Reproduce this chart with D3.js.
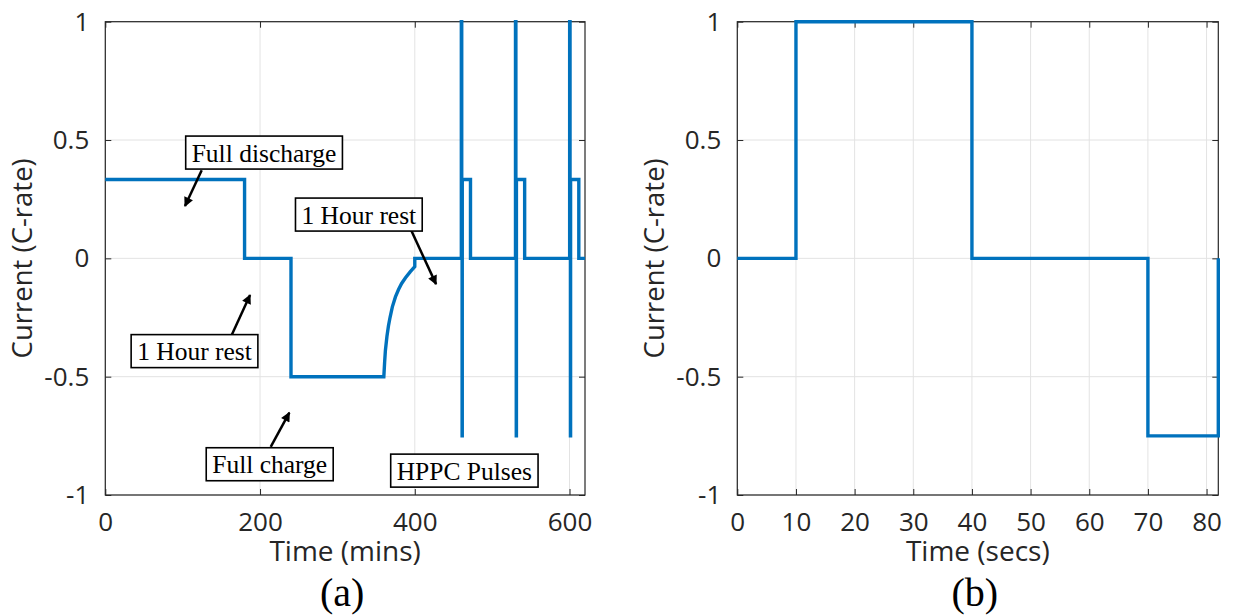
<!DOCTYPE html>
<html>
<head>
<meta charset="utf-8">
<script src="https://cdn.jsdelivr.net/npm/d3@7"></script>
<style>
  html, body { margin: 0; padding: 0; background: #fff; }
  svg { display: block; }
</style>
</head>
<body>
<svg id="fig" width="1235" height="616"></svg>
<script>
// ---- data -------------------------------------------------------------
// (a) full test profile, time in minutes, current in C-rate
const dischargeRate = 0.333;
const chargeRate = -0.5;
const dischargeEnd = 180;     // full discharge 0 -> 180 min
const restEnd = 240;          // 1 hour rest
const ccEnd = 360;            // constant-current charge
// constant-voltage taper of the charge current
const taperTimes  = [360, 361, 362, 364, 366, 368, 371, 375, 379, 383, 388, 394, 400];
const taperValues = [-0.5, -0.44, -0.39, -0.33, -0.285, -0.25, -0.205, -0.163, -0.132, -0.106, -0.082, -0.057, -0.035];
const pulseStarts = [460, 530, 600];       // HPPC pulse start (min)
const pulseDischargeEnds = [472, 542, 612]; // end of 0.333C discharge after each pulse
const testEnd = 620;

// (b) a single HPPC pulse, time in seconds
const pulseTimes  = [0, 10, 40, 70, 82];
const pulseValues = [0, 1, 0, -0.75];

// axis ticks
const yTicks = [-1, -0.5, 0, 0.5, 1];
const yTickLabels = ["-1", "-0.5", "0", "0.5", "1"];
const xTicksA = [0, 200, 400, 600];
const xTicksB = [0, 10, 20, 30, 40, 50, 60, 70, 80];

// text annotations on panel (a): box centre, arrow tail, arrow head (data units)
const annotations = [
  { text: "Full discharge", cx: 205.2, cy: 0.447, tail: [124.6, 0.372], head: [103, 0.221] },
  { text: "1 Hour rest",    cx: 115.3, cy: -0.392, tail: [163.4, -0.324], head: [187.1, -0.155] },
  { text: "1 Hour rest",    cx: 327.7, cy: 0.185, tail: [394, 0.128], head: [427.5, -0.109] },
  { text: "Full charge",    cx: 212.5, cy: -0.870, tail: [213.8, -0.797], head: [237.9, -0.652] },
  { text: "HPPC Pulses",    cx: 464.1, cy: -0.897 }
];

// ---- build point lists -----------------------------------------------
function stepPoints(times, values) {
  const pts = [];
  for (let i = 0; i < values.length; i++) {
    pts.push([times[i], values[i]]);
    pts.push([times[i + 1], values[i]]);
  }
  return pts;
}

const pulsePtsB = stepPoints(pulseTimes, pulseValues);
pulsePtsB.push([pulseTimes[pulseTimes.length - 1], 0]);

const profileA = [];
profileA.push(...stepPoints([0, dischargeEnd, restEnd, ccEnd], [dischargeRate, 0, chargeRate]));
taperTimes.forEach((t, i) => profileA.push([t, taperValues[i]]));
profileA.push([taperTimes[taperTimes.length - 1], 0]);
pulseStarts.forEach((t0, k) => {
  profileA.push([t0, 0]);
  // the pulse itself, seconds converted to minutes
  stepPoints(pulseTimes, pulseValues).forEach(([s, v]) => profileA.push([t0 + s / 60, v]));
  const pEnd = t0 + pulseTimes[pulseTimes.length - 1] / 60;
  profileA.push([pEnd, dischargeRate]);
  profileA.push([pulseDischargeEnds[k], dischargeRate]);
  profileA.push([pulseDischargeEnds[k], 0]);
});
profileA.push([testEnd, 0]);

// ---- drawing -----------------------------------------------------------
const svg = d3.select("#fig");
const axisColor = "#262626";
const lineColor = "#0072BD";
const sansFont = "'Open Sans', 'Noto Sans', sans-serif";
const serifFont = "'Liberation Serif', 'DejaVu Serif', serif";

function drawPanel(opts) {
  const { left, right, top, bottom, xDomain, xTicks, points, xLabel, tag } = opts;
  const x = d3.scaleLinear().domain(xDomain).range([left, right]);
  const y = d3.scaleLinear().domain([-1, 1]).range([bottom, top]);
  const g = svg.append("g");

  // grid
  g.append("g").selectAll("line.gx").data(xTicks).join("line")
    .attr("x1", d => x(d)).attr("x2", d => x(d))
    .attr("y1", top).attr("y2", bottom)
    .attr("stroke", "#e3e3e3").attr("stroke-width", 1);
  g.append("g").selectAll("line.gy").data(yTicks).join("line")
    .attr("x1", left).attr("x2", right)
    .attr("y1", d => y(d)).attr("y2", d => y(d))
    .attr("stroke", "#e3e3e3").attr("stroke-width", 1);

  // axes (ticks pointing inward, on all four sides)
  const tl = 6;
  const fmtY = d => yTickLabels[yTicks.indexOf(d)];
  const ax = [
    g.append("g").attr("transform", `translate(0,${bottom})`)
      .call(d3.axisBottom(x).tickValues(xTicks).tickSizeInner(-tl).tickSizeOuter(0).tickPadding(18)),
    g.append("g").attr("transform", `translate(0,${top})`)
      .call(d3.axisTop(x).tickValues(xTicks).tickSizeInner(-tl).tickSizeOuter(0).tickFormat("")),
    g.append("g").attr("transform", `translate(${left},0)`)
      .call(d3.axisLeft(y).tickValues(yTicks).tickFormat(fmtY).tickSizeInner(-tl).tickSizeOuter(0).tickPadding(16)),
    g.append("g").attr("transform", `translate(${right},0)`)
      .call(d3.axisRight(y).tickValues(yTicks).tickSizeInner(-tl).tickSizeOuter(0).tickFormat(""))
  ];
  ax.forEach(a => {
    a.select(".domain").remove();
    a.selectAll("line").attr("stroke", axisColor).attr("stroke-width", 1);
    a.selectAll("text").attr("fill", axisColor).style("font-family", sansFont).style("font-size", "26px");
  });
  g.append("rect").attr("x", left).attr("y", top)
    .attr("width", right - left).attr("height", bottom - top)
    .attr("fill", "none").attr("stroke", axisColor).attr("stroke-width", 1.2);

  // data line
  const line = d3.line().x(d => x(d[0])).y(d => y(d[1]));
  g.append("path").datum(points)
    .attr("d", line)
    .attr("fill", "none").attr("stroke", lineColor)
    .attr("stroke-width", 3.4).attr("stroke-linejoin", "miter").attr("stroke-linecap", "butt");

  // axis labels
  g.append("text").attr("x", (left + right) / 2).attr("y", 561)
    .attr("text-anchor", "middle").attr("fill", axisColor)
    .style("font-family", sansFont).style("font-size", "28px").text(xLabel);
  g.append("text")
    .attr("transform", `translate(${left - 73},${(top + bottom) / 2}) rotate(-90)`)
    .attr("text-anchor", "middle").attr("fill", axisColor)
    .style("font-family", sansFont).style("font-size", "27.5px").text("Current (C-rate)");
  // panel tag
  g.append("text").attr("x", (left + right) / 2 - 3).attr("y", 606)
    .attr("text-anchor", "middle").attr("fill", "#000")
    .style("font-family", serifFont).style("font-size", "40px").text(tag);

  return { g, x, y };
}

const A = drawPanel({
  left: 105.3, right: 585, top: 21.7, bottom: 495,
  xDomain: [0, testEnd], xTicks: xTicksA, points: profileA,
  xLabel: "Time (mins)", tag: "(a)"
});
drawPanel({
  left: 737.3, right: 1218.3, top: 21.7, bottom: 495,
  xDomain: [0, pulseTimes[pulseTimes.length - 1]], xTicks: xTicksB, points: pulsePtsB,
  xLabel: "Time (secs)", tag: "(b)"
});

// annotations on panel (a)
const defs = svg.append("defs");
defs.append("marker").attr("id", "arrowHead")
  .attr("viewBox", "0 0 10 10").attr("refX", 9).attr("refY", 5)
  .attr("markerWidth", 4.4).attr("markerHeight", 3.8).attr("orient", "auto")
  .attr("markerUnits", "strokeWidth")
  .append("path").attr("d", "M0,0 L10,5 L0,10 Z").attr("fill", "#000");

const annG = A.g.append("g");
annotations.forEach(a => {
  if (a.tail) {
    annG.append("line")
      .attr("x1", A.x(a.tail[0])).attr("y1", A.y(a.tail[1]))
      .attr("x2", A.x(a.head[0])).attr("y2", A.y(a.head[1]))
      .attr("stroke", "#000").attr("stroke-width", 2.5)
      .attr("marker-end", "url(#arrowHead)");
  }
  const cx = A.x(a.cx), cy = A.y(a.cy);
  const box = annG.append("rect");
  const t = annG.append("text").attr("x", cx).attr("y", cy + 9)
    .attr("text-anchor", "middle").attr("fill", "#000")
    .style("font-family", serifFont).style("font-size", "25.5px").text(a.text);
  const w = t.node().getComputedTextLength() + 12;
  box.attr("x", cx - w / 2).attr("y", cy - 16.5).attr("width", w).attr("height", 33)
    .attr("fill", "#fff").attr("stroke", "#000").attr("stroke-width", 1.6);
});
</script>
</body>
</html>
